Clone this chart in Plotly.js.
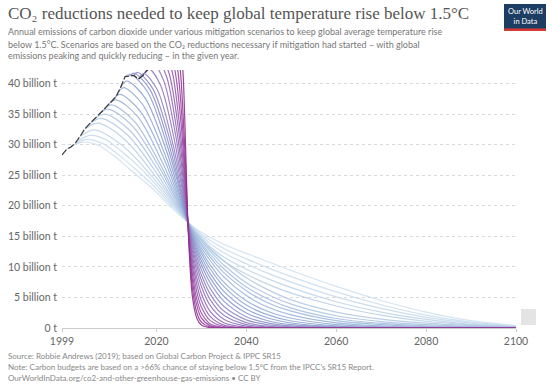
<!DOCTYPE html>
<html>
<head>
<meta charset="utf-8">
<script src="https://cdn.plot.ly/plotly-3.0.1.min.js"></script>
<style>html,body{margin:0;padding:0;background:#fff;}#chart{width:552px;height:391px;}</style>
</head>
<body>
<div id="chart"></div>
<script>
// ---- Data (billion tonnes CO2 per year) ----
const historyYears = [1999,2000,2001,2002,2003,2004,2005,2006,2007,2008,2009,2010,2011,2012,2013,2014,2015,2016,2017,2018];
const historyValues = [28.3,29.2,29.6,30.3,31.3,32.5,33.3,34.0,34.8,35.5,36.3,37.0,37.8,39.3,41.1,41.2,41.3,40.7,41.3,42.2];

// Scenario paths: [year, emissions] if mitigation had started in the given year
const s2000 = [[2000,29.2],[2003.5,30.4],[2007,29.9],[2010.5,28.2],[2014,26.0],[2019,22.9],[2023.5,19.6],[2027,17.3],[2028,16.7],[2029,16.15],[2030,15.65],[2032,14.8],[2035,13.7],[2040,12.2],[2045,10.8],[2050,9.4],[2060,6.8],[2070,4.5],[2080,2.6],[2090,1.2],[2100,0.4]];
const s2001 = [[2001,29.6],[2004.3,30.85],[2008,30.2],[2011.5,28.4],[2015,26.2],[2019.3,23.3],[2023.7,19.8],[2027,17.3],[2028,16.6],[2029,15.95],[2030,15.35],[2032,14.3],[2035,13.0],[2040,11.3],[2045,9.8],[2050,8.4],[2060,5.9],[2070,3.8],[2080,2.1],[2090,0.95],[2100,0.3]];
const s2002 = [[2002,30.3],[2005.2,31.5],[2008.8,30.8],[2012.2,28.9],[2015.8,26.6],[2019.6,23.7],[2023.8,20.0],[2027,17.3],[2028,16.5],[2029,15.75],[2030,15.05],[2032,13.8],[2035,12.3],[2040,10.5],[2045,8.9],[2050,7.5],[2060,5.1],[2070,3.2],[2080,1.75],[2090,0.8],[2100,0.25]];
const s2003 = [[2003,31.3],[2006.1,32.4],[2012.5,29.8],[2019.8,24.1],[2023.9,20.2],[2027,17.3],[2028,16.4],[2029,15.55],[2030,14.75],[2032,13.3],[2035,11.6],[2040,9.6],[2045,8.0],[2050,6.6],[2060,4.3],[2070,2.6],[2080,1.4],[2090,0.6],[2100,0.2]];
const s2004 = [[2004,32.5],[2006.9,33.5],[2013,30.8],[2020,24.6],[2024,20.4],[2027,17.3],[2028,16.3],[2029,15.35],[2030,14.45],[2032,12.8],[2035,10.9],[2040,8.8],[2045,7.1],[2050,5.7],[2060,3.6],[2070,2.1],[2080,1.1],[2090,0.5],[2100,0.15]];
const s2005 = [[2005,33.3],[2007.7,34.3],[2013.55,31.6],[2020.3,25.05],[2024.1,20.55],[2027,17.3],[2028,16.3],[2029,15.4],[2030,14.55],[2032,13.0],[2035,11.0],[2040,8.2],[2045,6.2],[2050,4.6],[2060,2.6],[2070,1.45],[2080,0.8],[2090,0.4],[2100,0.12]];
const s2006 = [[2006,34.0],[2008.5,35.0],[2014.1,32.3],[2020.55,25.6],[2024.25,20.8],[2027,17.3],[2028,16.2],[2029,15.2],[2030,14.25],[2032,12.5],[2035,10.3],[2040,7.4],[2045,5.4],[2050,3.9],[2060,2.0],[2070,1.05],[2080,0.55],[2090,0.28],[2100,0.1]];
const s2007 = [[2007,34.8],[2009.2,35.8],[2014.6,33.1],[2020.8,26.1],[2024.35,21.1],[2027,17.3],[2028,16.1],[2029,14.95],[2030,13.9],[2032,12.0],[2035,9.7],[2040,6.7],[2045,4.7],[2050,3.25],[2060,1.55],[2070,0.75],[2080,0.36],[2090,0.17],[2100,0.08]];
const s2008 = [[2008,35.5],[2010,36.5],[2015.1,33.8],[2021.05,26.5],[2024.45,21.3],[2027,17.3],[2028,15.95],[2029,14.7],[2030,13.6],[2032,11.55],[2035,9.05],[2040,6.1],[2045,4.05],[2050,2.75],[2060,1.2],[2070,0.55],[2080,0.24],[2090,0.11],[2100,0.05]];
const s2009 = [[2009,36.3],[2011,37.3],[2015.8,34.6],[2021.4,27.0],[2024.6,21.55],[2027,17.3],[2028,15.8],[2029,14.4],[2030,13.15],[2032,11.0],[2035,8.35],[2040,5.3],[2045,3.35],[2050,2.15],[2060,0.85],[2070,0.35],[2080,0.14],[2090,0.06],[2100,0.02]];
const s2010 = [[2010,37.0],[2011.8,38.2],[2016.35,35.5],[2021.7,27.7],[2024.7,21.85],[2027,17.3],[2028,15.6],[2029,14.05],[2030,12.65],[2032,10.3],[2035,7.5],[2040,4.45],[2045,2.65],[2050,1.6],[2060,0.55],[2070,0.2],[2080,0.07],[2090,0.02],[2100,0]];
const s2011 = [[2011,37.8],[2012.6,39.3],[2016.9,36.6],[2021.95,28.3],[2024.85,22.15],[2027,17.3],[2028,15.4],[2029,13.7],[2030,12.2],[2032,9.65],[2035,6.8],[2040,3.75],[2045,2.1],[2050,1.15],[2060,0.36],[2070,0.11],[2080,0.03],[2090,0],[2100,0]];
const s2012 = [[2012,39.3],[2013.4,40.4],[2017.5,37.6],[2022.25,28.95],[2024.95,22.45],[2027,17.3],[2028,15.15],[2029,13.25],[2030,11.6],[2032,8.9],[2035,6.0],[2040,3.1],[2045,1.6],[2050,0.82],[2060,0.22],[2070,0.06],[2080,0],[2090,0],[2100,0]];
const s2013 = [[2013,41.1],[2014.2,41.5],[2018.05,38.6],[2022.5,29.6],[2025.1,22.8],[2027,17.3],[2028,14.9],[2029,12.8],[2030,11.0],[2032,8.15],[2035,5.2],[2040,2.45],[2045,1.15],[2050,0.54],[2060,0.12],[2070,0.03],[2080,0],[2090,0],[2100,0]];
const s2014 = [[2014,41.2],[2015,41.7],[2018.6,38.95],[2022.8,30.0],[2025.2,23.05],[2027,17.3],[2028,14.6],[2029,12.3],[2030,10.35],[2032,7.35],[2035,4.4],[2040,1.85],[2045,0.8],[2050,0.34],[2060,0.06],[2070,0],[2080,0],[2090,0],[2100,0]];
const s2015 = [[2015,41.3],[2015.8,41.8],[2019.15,39.2],[2023.1,30.5],[2025.3,23.4],[2027,17.3],[2028,14.2],[2029,11.65],[2030,9.55],[2032,6.45],[2035,3.55],[2040,1.33],[2045,0.5],[2050,0.18],[2060,0.03],[2070,0],[2080,0],[2090,0],[2100,0]];
const s2016 = [[2016,40.7],[2017.2,41.6],[2020.15,39.05],[2023.55,30.5],[2025.55,23.45],[2027,17.3],[2028,13.75],[2029,10.95],[2030,8.7],[2032,5.5],[2035,2.77],[2040,0.89],[2045,0.28],[2050,0.09],[2060,0],[2070,0],[2080,0],[2090,0],[2100,0]];
const s2017 = [[2017,41.3],[2018.3,42.4],[2020.9,39.75],[2023.95,30.95],[2025.7,23.6],[2027,17.3],[2028,13.25],[2029,10.2],[2030,7.8],[2032,4.6],[2035,2.07],[2040,0.55],[2045,0.15],[2050,0.04],[2060,0],[2070,0],[2080,0],[2090,0],[2100,0]];
const s2018 = [[2018,42.2],[2019.3,43.2],[2021.6,40.5],[2024.3,31.45],[2025.85,23.9],[2027,17.3],[2028,12.65],[2029,9.25],[2030,6.8],[2032,3.65],[2035,1.43],[2040,0.3],[2045,0.06],[2050,0],[2060,0],[2070,0],[2080,0],[2090,0],[2100,0]];
const s2019 = [[2018,42.2],[2019,42.8],[2020.2,43.8],[2022.25,41.15],[2024.6,32.0],[2026,24.2],[2027,17.3],[2028,11.9],[2029,8.2],[2030,5.65],[2032,2.67],[2035,0.87],[2040,0.13],[2045,0.02],[2050,0],[2060,0],[2070,0],[2080,0],[2090,0],[2100,0]];
const s2020 = [[2018,42.2],[2019,42.8],[2020,43.3],[2021,44.3],[2022.8,41.7],[2024.9,32.55],[2026.1,24.55],[2027,17.3],[2028,11.05],[2029,7.1],[2030,4.5],[2032,1.85],[2035,0.48],[2040,0.05],[2045,0],[2050,0],[2060,0],[2070,0],[2080,0],[2090,0],[2100,0]];
const s2021 = [[2018,42.2],[2019,42.8],[2020,43.3],[2021,43.8],[2021.9,44.7],[2023.45,42.1],[2025.2,32.8],[2026.25,24.65],[2027,17.3],[2028,10.1],[2029,5.9],[2030,3.45],[2032,1.2],[2035,0.24],[2040,0.02],[2045,0],[2050,0],[2060,0],[2070,0],[2080,0],[2090,0],[2100,0]];
const s2022 = [[2018,42.2],[2019,42.8],[2020,43.3],[2021,43.8],[2022,44.2],[2022.8,45.1],[2024.05,42.4],[2025.55,32.9],[2026.35,24.65],[2027,17.3],[2028,9.0],[2029,4.7],[2030,2.45],[2032,0.67],[2035,0.1],[2040,0],[2050,0],[2060,0],[2070,0],[2080,0],[2090,0],[2100,0]];
const s2023 = [[2018,42.2],[2019,42.8],[2020,43.3],[2021,43.8],[2022,44.2],[2023,44.6],[2023.7,45.4],[2024.7,42.45],[2025.85,32.55],[2026.5,24.35],[2027,17.3],[2028,7.9],[2029,3.65],[2030,1.65],[2032,0.35],[2035,0.03],[2040,0],[2050,0],[2060,0],[2070,0],[2080,0],[2090,0],[2100,0]];
const s2024 = [[2018,42.2],[2019,42.8],[2020,43.3],[2021,43.8],[2022,44.2],[2023,44.6],[2024,45.0],[2024.6,45.7],[2025.3,42.35],[2026.15,31.85],[2026.65,23.85],[2027,17.3],[2028,6.6],[2029,2.5],[2030,0.96],[2032,0.14],[2035,0],[2040,0],[2050,0],[2060,0],[2070,0],[2080,0],[2090,0],[2100,0]];
const s2025 = [[2018,42.2],[2019,42.8],[2020,43.3],[2021,43.8],[2022,44.2],[2023,44.6],[2024,45.0],[2025,45.3],[2025.4,45.9],[2025.9,42.05],[2026.45,30.8],[2026.75,23.0],[2027,17.3],[2028,5.2],[2029,1.6],[2030,0.48],[2032,0.04],[2035,0],[2040,0],[2050,0],[2060,0],[2070,0],[2080,0],[2090,0],[2100,0]];

const scenarioNames = ["2000","2001","2002","2003","2004","2005","2006","2007","2008","2009","2010","2011","2012","2013","2014","2015","2016","2017","2018","2019","2020","2021","2022","2023","2024","2025"];
const scenarios = [s2000,s2001,s2002,s2003,s2004,s2005,s2006,s2007,s2008,s2009,s2010,s2011,s2012,s2013,s2014,s2015,s2016,s2017,s2018,s2019,s2020,s2021,s2022,s2023,s2024,s2025];

const xTickVals = [1999,2020,2040,2060,2080,2100];
const xTickText = ["1999","2020","2040","2060","2080","2100"];
const yTickVals = [0,5,10,15,20,25,30,35,40];
const yTickText = ["0 t","5 billion t","10 billion t","15 billion t","20 billion t","25 billion t","30 billion t","35 billion t","40 billion t"];

// ---- Styles ----
const scenarioColors = ["#d0e1f0","#cbdeee","#c6daec","#c0d5ea","#bbd0e7","#b4cbe5","#adc5e2","#a7bfdf","#a1badc","#9bb4da","#96aed6","#92a8d3","#8fa1d0","#8e9bcd","#8f94ca","#908dc7","#9185c3","#927dbf","#9475bb","#956cb7","#9663b2","#985aad","#9850a7","#9945a0","#963a98","#8f2f90"];

const traces = scenarios.map((s, i) => ({
  type: "scatter", mode: "lines", name: scenarioNames[i],
  x: s.map(p => p[0]), y: s.map(p => p[1]),
  line: {color: scenarioColors[i], width: 1.2, shape: "spline", smoothing: 0.9},
  opacity: 0.9, hoverinfo: "skip", showlegend: false
}));
traces.push({
  type: "scatter", mode: "lines", name: "History",
  x: historyYears, y: historyValues,
  line: {color: "#3a3a3a", width: 1.2, dash: "7px,2px"},
  hoverinfo: "skip", showlegend: false
});

// plot area in pixels
const L = 62, R = 516, T = 70, B = 328;
const px = x => (x - L) / (R - L);
const py = y => (B - y) / (B - T);

const txt = (text, x, y, size, color, family, extra) => Object.assign({
  text, x: px(x), y: py(y), xref: "paper", yref: "paper",
  xanchor: "left", yanchor: "middle", showarrow: false, align: "left",
  font: {size, color, family}
}, extra || {});

const sans = "Lato, 'Open Sans', sans-serif";
const layout = {
  width: 552, height: 391,
  margin: {l: L, r: 552 - R, t: T, b: 391 - B, pad: 0},
  paper_bgcolor: "#ffffff", plot_bgcolor: "#ffffff",
  showlegend: false,
  xaxis: {
    range: [1999, 2100], tickvals: xTickVals, ticktext: xTickText,
    showgrid: false, zeroline: false, showline: true, linecolor: "#cccccc", linewidth: 1,
    ticks: "outside", ticklen: 3, tickcolor: "#cccccc",
    tickfont: {family: sans, size: 10.5, color: "#666666"}, fixedrange: true
  },
  yaxis: {
    range: [0, 42.2], tickvals: yTickVals, ticktext: yTickText,
    showgrid: true, gridcolor: "#d9d9d9", griddash: "dot", gridwidth: 1,
    zeroline: false, showline: false, ticks: "",
    tickfont: {family: sans, size: 10.5, color: "#666666"}, ticklabelstandoff: 4, fixedrange: true
  },
  shapes: [
    {type: "rect", xref: "paper", yref: "paper", x0: px(504), x1: px(546), y0: py(31), y1: py(4), fillcolor: "#1d3d63", line: {width: 0}},
    {type: "rect", xref: "paper", yref: "paper", x0: px(504), x1: px(546), y0: py(31), y1: py(28.5), fillcolor: "#d73a33", line: {width: 0}},
    {type: "rect", xref: "paper", yref: "paper", x0: px(521), x1: px(536), y0: py(325), y1: py(309), fillcolor: "#e4e4e4", line: {width: 0}}
  ],
  annotations: [
    txt("CO₂ reductions needed to keep global temperature rise below 1.5°C", 6, 13, 17, "#555555", "'Liberation Serif', 'DejaVu Serif', serif"),
    txt("Annual emissions of carbon dioxide under various mitigation scenarios to keep global average temperature rise", 6, 32, 9, "#777777", sans),
    txt("below 1.5°C. Scenarios are based on the CO₂ reductions necessary if mitigation had started – with global", 6, 44, 9, "#777777", sans),
    txt("emissions peaking and quickly reducing – in the given year.", 6, 56, 9, "#777777", sans),
    txt("Source: Robbie Andrews (2019); based on Global Carbon Project & IPPC SR15", 6, 356, 8, "#888888", sans),
    txt("Note: Carbon budgets are based on a >66% chance of staying below 1.5°C from the IPCC's SR15 Report.", 6, 367, 8, "#888888", sans),
    txt("OurWorldInData.org/co2-and-other-greenhouse-gas-emissions • CC BY", 6, 378, 8, "#888888", sans),
    txt("Our World<br>in Data", 525, 16, 7.5, "#ffffff", sans, {xanchor: "center", align: "center"})
  ]
};

Plotly.newPlot("chart", traces, layout, {staticPlot: true, displayModeBar: false});
</script>
</body>
</html>
